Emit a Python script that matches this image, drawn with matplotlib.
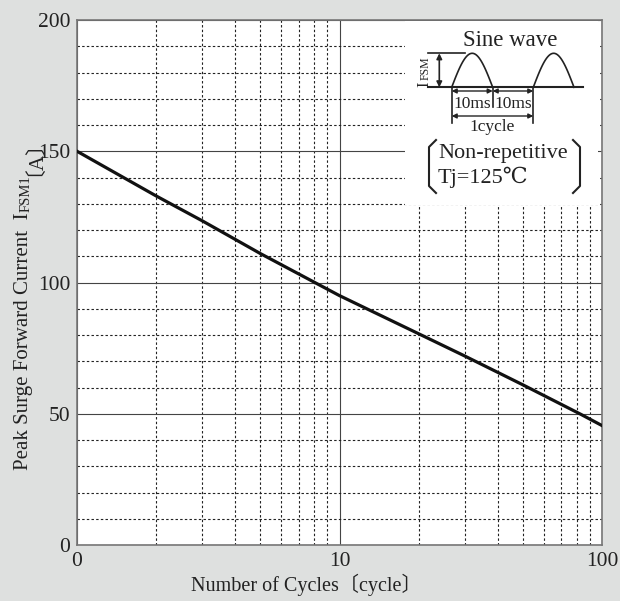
import matplotlib
matplotlib.use("Agg")
import matplotlib.pyplot as plt
import numpy as np
from matplotlib.ticker import FixedLocator, NullFormatter

plt.rcParams['font.family'] = ['Liberation Serif', 'DejaVu Serif', 'Noto Sans CJK JP']

# surge curve
cycles = [1, 2, 3, 5, 10, 20, 30, 50, 83, 100]
ifsm = [150, 133, 123.5, 111, 95, 80.5, 72, 61, 49.8, 45.5]

x_ticks = [1, 10, 100]
x_labels = ['0', '10', '100']
y_ticks = [0, 50, 100, 150, 200]
x_minor = [2, 3, 4, 5, 6, 7, 8, 9, 20, 30, 40, 50, 60, 70, 80, 90]
y_minor = [10, 20, 30, 40, 60, 70, 80, 90, 110, 120, 130, 140, 160, 170, 180, 190]

W, H = 620, 601
bg = '#dee0df'
k = '#222222'
fig = plt.figure(figsize=(6.2, 6.01), dpi=100, facecolor=bg)
ax = fig.add_axes([77/W, 1-545/H, 525/W, 525/H])
ax.set_facecolor('white')
ax.set_xscale('log')
ax.set_xlim(1, 100)
ax.set_ylim(0, 200)

ax.set_xticks(x_ticks)
ax.set_xticklabels(x_labels)
ax.xaxis.set_minor_locator(FixedLocator(x_minor))
ax.xaxis.set_minor_formatter(NullFormatter())
ax.set_yticks(y_ticks)
ax.yaxis.set_minor_locator(FixedLocator(y_minor))
ax.tick_params(which='both', length=0, labelsize=15.5, colors=k)
ax.tick_params(axis='x', pad=5)
ax.tick_params(axis='y', pad=5)

ax.grid(which='major', color='#444444', linewidth=0.8, linestyle='-')
ax.grid(which='minor', color='#222222', linewidth=0.8, linestyle=(0, (2.2, 2)))
ax.set_axisbelow(True)
for s in ax.spines.values():
    s.set_color('#777777')
    s.set_linewidth(1.2)

ax.plot(cycles, ifsm, color='#111111', linewidth=2.3, zorder=3)

fig.text(306/W, 1-585/H, 'Number of Cycles〔cycle〕', fontsize=14.5, color=k,
         ha='center', va='center')

# y label built from pieces so the small FSM1 and the CJK brackets both render
r = fig.canvas.get_renderer()
yb = 1 - 470/H
for txt, fs, xp in [('Peak Surge Forward Current  I', 15, 24),
                    ('FSM1', 10.5, 26), ('〔A〕', 15, 24)]:
    t = fig.text(xp/W, yb, txt, rotation=90, fontsize=fs, color=k,
                 ha='center', va='bottom')
    yb = t.get_window_extent(r).y1 / (fig.dpi * 6.01)

# inset sketch, drawn in pixel coords on a white patch
ins = fig.add_axes([405/W, 1-205/H, 193/W, 184/H])
ins.set_xlim(405, 598)
ins.set_ylim(205, 21)
ins.set_facecolor('white')
ins.set_xticks([])
ins.set_yticks([])
for s in ins.spines.values():
    s.set_visible(False)

ins.text(510, 40, 'Sine wave', ha='center', va='center', fontsize=16.5, color=k)
ins.plot([428, 583], [87.3, 87.3], color=k, lw=1.5)
ins.plot([428, 465], [53.3, 53.3], color=k, lw=1.2)
ins.annotate('', xy=(439.3, 53.3), xytext=(439.3, 87.3),
             arrowprops=dict(arrowstyle='<|-|>', color=k, lw=1.2, shrinkA=0, shrinkB=0, mutation_scale=8))
ins.text(424, 87, 'I', rotation=90, ha='center', va='bottom', fontsize=12, color=k)
ins.text(425.5, 79.5, 'FSM', rotation=90, ha='center', va='bottom', fontsize=8.5, color=k)
for x0, x1 in [(451.7, 492.7), (533.3, 574)]:
    t = np.linspace(0, np.pi, 60)
    ins.plot(x0 + (x1 - x0) * t / np.pi, 87.3 - 34 * np.sin(t), color=k, lw=1.2)
ins.plot([451.7, 451.7], [87.3, 123.3], color=k, lw=1.2)
ins.plot([492.7, 492.7], [87.3, 106.7], color=k, lw=1.2)
ins.plot([533.3, 533.3], [87.3, 123.3], color=k, lw=1.2)
for a, b in [(451.7, 492.7), (492.7, 533.3)]:
    ins.annotate('', xy=(a, 91), xytext=(b, 91),
                 arrowprops=dict(arrowstyle='<|-|>', color=k, lw=1, shrinkA=0, shrinkB=0, mutation_scale=7))
ins.text(472.2, 103.5, '10ms', ha='center', va='center', fontsize=12.5, color=k)
ins.text(513, 103.5, '10ms', ha='center', va='center', fontsize=12.5, color=k)
ins.annotate('', xy=(451.7, 116), xytext=(533.3, 116),
             arrowprops=dict(arrowstyle='<|-|>', color=k, lw=1, shrinkA=0, shrinkB=0, mutation_scale=7))
ins.text(492.5, 127.5, '1cycle', ha='center', va='center', fontsize=12.5, color=k)
ins.plot([436, 429, 429, 436], [140, 147, 186, 193], color=k, lw=1.5)
ins.plot([573, 580, 580, 573], [140, 147, 186, 193], color=k, lw=1.5)
ins.text(438, 154, 'Non-repetitive', ha='left', va='center', fontsize=16, color=k)
ins.text(438, 177, 'Tj=125℃', ha='left', va='center', fontsize=16, color=k)

fig.savefig('out.png', dpi=100, facecolor=bg)
